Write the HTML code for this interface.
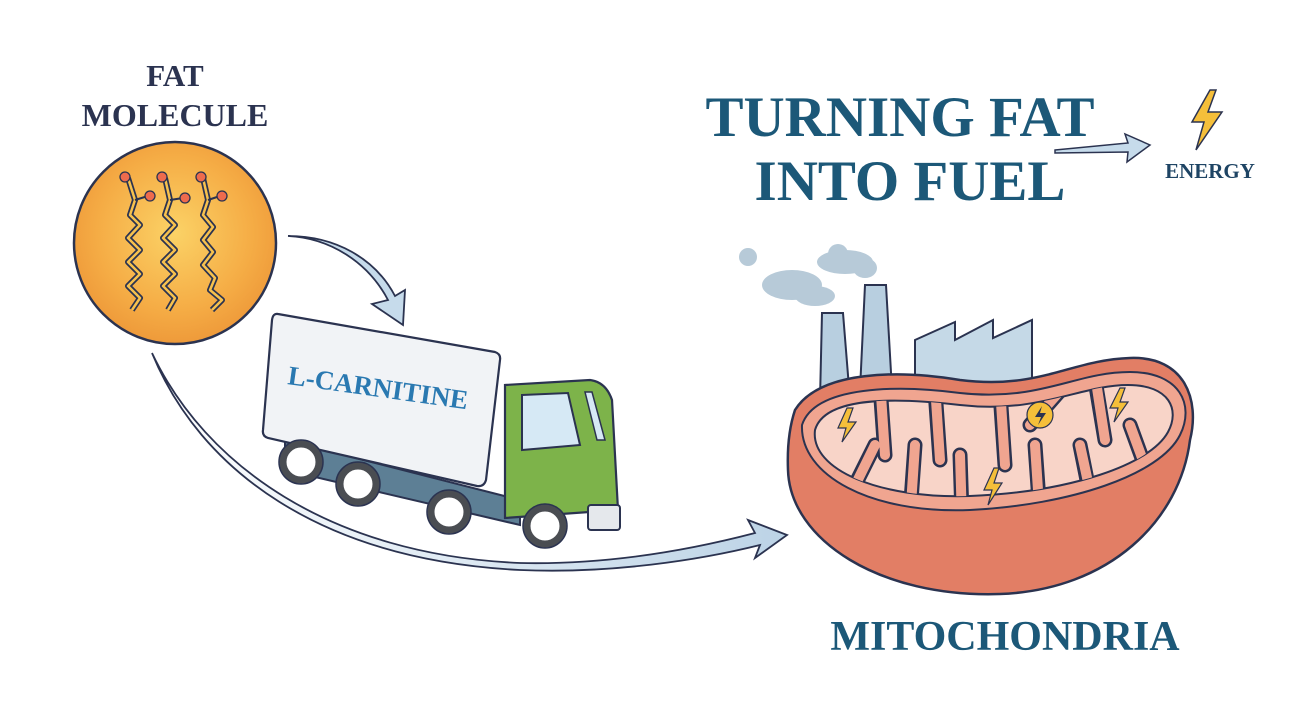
<!DOCTYPE html>
<html><head><meta charset="utf-8"><style>
html,body{margin:0;padding:0;background:#fff;}
svg{display:block}
.s{font-family:"Liberation Serif",serif;font-weight:bold}
</style></head><body>
<svg width="1300" height="709" viewBox="0 0 1300 709" xmlns="http://www.w3.org/2000/svg">
<defs>
<radialGradient id="og" cx="50%" cy="45%" r="55%"><stop offset="0" stop-color="#fbd266"/><stop offset="0.7" stop-color="#f5ac45"/><stop offset="1" stop-color="#ee9a3a"/></radialGradient>
<linearGradient id="ag" x1="0" y1="0" x2="1" y2="0"><stop offset="0" stop-color="#fff"/><stop offset="1" stop-color="#bcd3e6"/></linearGradient>
<clipPath id="pc"><path d="M815 430 C825 395 900 398 960 405 C1040 414 1080 385 1128 385 C1170 385 1180 410 1168 432 C1150 465 1070 492 970 496 C880 499 810 470 815 430 Z"/></clipPath>
</defs>
<rect width="1300" height="709" fill="#fff"/>
<text class="s" x="175" y="86" font-size="31" fill="#2b3350" text-anchor="middle">FAT</text>
<text class="s" x="175" y="126" font-size="32" fill="#2b3350" text-anchor="middle">MOLECULE</text>
<circle cx="175" cy="243" r="101" fill="url(#og)" stroke="#2b3350" stroke-width="2.5"/>
<g fill="none" stroke="#2b3350" stroke-width="6" stroke-linejoin="round">
<path d="M128 178 L135 200 L130 215 L140 225 L128 238 L140 250 L128 262 L140 274 L128 286 L140 298 L132 310"/>
<path d="M165 178 L170 200 L165 215 L175 225 L163 238 L175 250 L163 262 L175 274 L163 286 L175 298 L168 310"/>
<path d="M203 178 L208 200 L203 215 L213 227 L203 240 L213 252 L203 265 L215 278 L210 290 L222 300 L212 310"/>
</g>
<g fill="none" stroke="#f7c14d" stroke-width="2.5" stroke-linejoin="round">
<path d="M128 178 L135 200 L130 215 L140 225 L128 238 L140 250 L128 262 L140 274 L128 286 L140 298 L132 310"/>
<path d="M165 178 L170 200 L165 215 L175 225 L163 238 L175 250 L163 262 L175 274 L163 286 L175 298 L168 310"/>
<path d="M203 178 L208 200 L203 215 L213 227 L203 240 L213 252 L203 265 L215 278 L210 290 L222 300 L212 310"/>
</g>
<g stroke="#2b3350" stroke-width="2" fill="none"><path d="M135 200 L148 196"/><path d="M170 200 L183 198"/><path d="M208 200 L220 196"/></g>
<g fill="#ee6b4d" stroke="#2b3350" stroke-width="1.3">
<circle cx="125" cy="177" r="5"/><circle cx="150" cy="196" r="5"/>
<circle cx="162" cy="177" r="5"/><circle cx="185" cy="198" r="5"/>
<circle cx="201" cy="177" r="5"/><circle cx="222" cy="196" r="5"/>
</g>
<path d="M288 236 C330 238 368 262 388 300 L372 304 L403 325 L405 290 L395 296 C375 258 335 236 288 236 Z" fill="#c6dbeb" stroke="#2b3350" stroke-width="1.8"/>
<path d="M152 353 C200 470 320 560 520 570 C610 574 700 560 760 545 L755 558 L787 535 L748 520 L755 533 C690 550 610 565 520 563 C330 555 205 465 152 353 Z" fill="url(#ag)" stroke="#2b3350" stroke-width="1.8"/>
<path d="M285 440 L520 500 L520 525 L285 470 Z" fill="#5d7f95" stroke="#2b3350" stroke-width="2"/>
<path d="M505 385 L590 380 Q606 382 612 400 L618 510 L505 518 Z" fill="#7db34a" stroke="#2b3350" stroke-width="2.2"/>
<path d="M522 395 L568 393 L580 445 L522 450 Z" fill="#d6e9f5" stroke="#2b3350" stroke-width="2"/>
<path d="M585 392 L592 392 L605 440 L597 440 Z" fill="#d6e9f5" stroke="#2b3350" stroke-width="1.5"/>
<rect x="588" y="505" width="32" height="25" rx="3" fill="#e5e8ec" stroke="#2b3350" stroke-width="2"/>
<path d="M278 314 L495 352 Q501 354 500 360 L486 480 Q484 487 477 486 L268 438 Q262 436 263 430 L272 320 Q273 313 278 314 Z" fill="#f1f3f6" stroke="#2b3350" stroke-width="2.2"/>
<text class="s" font-size="27" fill="#2a79b1" transform="translate(287 384) rotate(8)">L-CARNITINE</text>
<g fill="#fff" stroke="#4a4d52" stroke-width="7">
<circle cx="301" cy="462" r="18"/><circle cx="358" cy="484" r="18"/><circle cx="449" cy="512" r="18"/><circle cx="545" cy="526" r="18"/>
</g>
<g fill="none" stroke="#2b3350" stroke-width="1.5">
<circle cx="301" cy="462" r="22"/><circle cx="358" cy="484" r="22"/><circle cx="449" cy="512" r="22"/><circle cx="545" cy="526" r="22"/>
</g>
<text class="s" x="900" y="136" font-size="57" fill="#1c5878" text-anchor="middle">TURNING FAT</text>
<text class="s" x="910" y="200" font-size="57" fill="#1c5878" text-anchor="middle">INTO FUEL</text>
<path d="M1055 150 L1128 143 L1125 134 L1150 145 L1127 162 L1128 152 L1055 153 Z" fill="#c6dbeb" stroke="#2b3350" stroke-width="1.5"/>
<path d="M1210 90 L1192 122 L1204 122 L1196 150 L1222 112 L1208 112 L1216 90 Z" fill="#f5bf3a" stroke="#2b3350" stroke-width="1.5"/>
<text class="s" x="1210" y="178" font-size="21" fill="#1e4464" text-anchor="middle">ENERGY</text>
<g fill="#b7cad8">
<circle cx="748" cy="257" r="9"/><ellipse cx="792" cy="285" rx="30" ry="15"/><ellipse cx="815" cy="296" rx="20" ry="10"/>
<ellipse cx="845" cy="262" rx="28" ry="12"/><circle cx="838" cy="254" r="10"/><ellipse cx="865" cy="268" rx="12" ry="10"/>
</g>
<path d="M820 400 L822 313 L843 313 L850 400 Z" fill="#b8cfe0" stroke="#2b3350" stroke-width="2"/>
<path d="M860 390 L865 285 L886 285 L892 390 Z" fill="#b8cfe0" stroke="#2b3350" stroke-width="2"/>
<path d="M915 395 L915 340 L955 322 L955 340 L993 320 L993 338 L1032 320 L1032 395 Z" fill="#c5d9e7" stroke="#2b3350" stroke-width="2"/>
<path d="M795 410 C820 370 900 370 960 380 C1040 390 1070 360 1130 358 C1185 356 1200 400 1190 440 C1180 520 1110 590 1000 594 C880 598 790 540 788 470 C787 445 790 425 795 410 Z" fill="#e27e65" stroke="#2b3350" stroke-width="2.5"/>
<path d="M802 425 C815 385 900 385 960 393 C1040 402 1075 372 1130 372 C1180 372 1195 405 1180 435 C1160 475 1070 505 970 510 C870 514 800 475 802 425 Z" fill="#f0a590" stroke="#2b3350" stroke-width="2"/>
<path d="M815 430 C825 395 900 398 960 405 C1040 414 1080 385 1128 385 C1170 385 1180 410 1168 432 C1150 465 1070 492 970 496 C880 499 810 470 815 430 Z" fill="#f8d4c8" stroke="#2b3350" stroke-width="2"/>
<g clip-path="url(#pc)">
<g stroke="#2b3350" stroke-width="15" stroke-linecap="round" fill="none">
<path d="M880 385 L885 455 M935 390 L940 460 M1000 392 L1005 465 M1095 380 L1105 440 M1065 385 L1030 425"/>
<path d="M845 505 L875 445 M910 515 L915 445 M962 515 L960 455 M1040 515 L1035 445 M1092 505 L1080 445 M1150 480 L1130 425"/>
</g>
<g stroke="#f0a590" stroke-width="10" stroke-linecap="round" fill="none">
<path d="M880 380 L885 455 M935 385 L940 460 M1000 387 L1005 465 M1095 375 L1105 440 M1068 382 L1030 425"/>
<path d="M843 510 L875 445 M910 520 L915 445 M962 520 L960 455 M1040 520 L1035 445 M1094 510 L1080 445 M1152 485 L1130 425"/>
</g>
</g>
<g fill="#f5bf3a" stroke="#2b3350" stroke-width="1.2">
<path d="M847 408 L838 428 L846 428 L842 442 L856 422 L848 422 L853 408 Z"/>
<path d="M1120 388 L1110 408 L1118 408 L1114 422 L1128 402 L1120 402 L1125 388 Z"/>
<path d="M994 468 L984 490 L992 490 L988 505 L1002 483 L994 483 L999 468 Z"/>
<circle cx="1040" cy="415" r="13"/>
</g>
<path d="M1042 406 L1035 417 L1041 417 L1038 425 L1046 413 L1040 413 Z" fill="#2b3350"/>
<text class="s" x="1005" y="650" font-size="42" fill="#1c5878" text-anchor="middle">MITOCHONDRIA</text>
</svg>
</body></html>
